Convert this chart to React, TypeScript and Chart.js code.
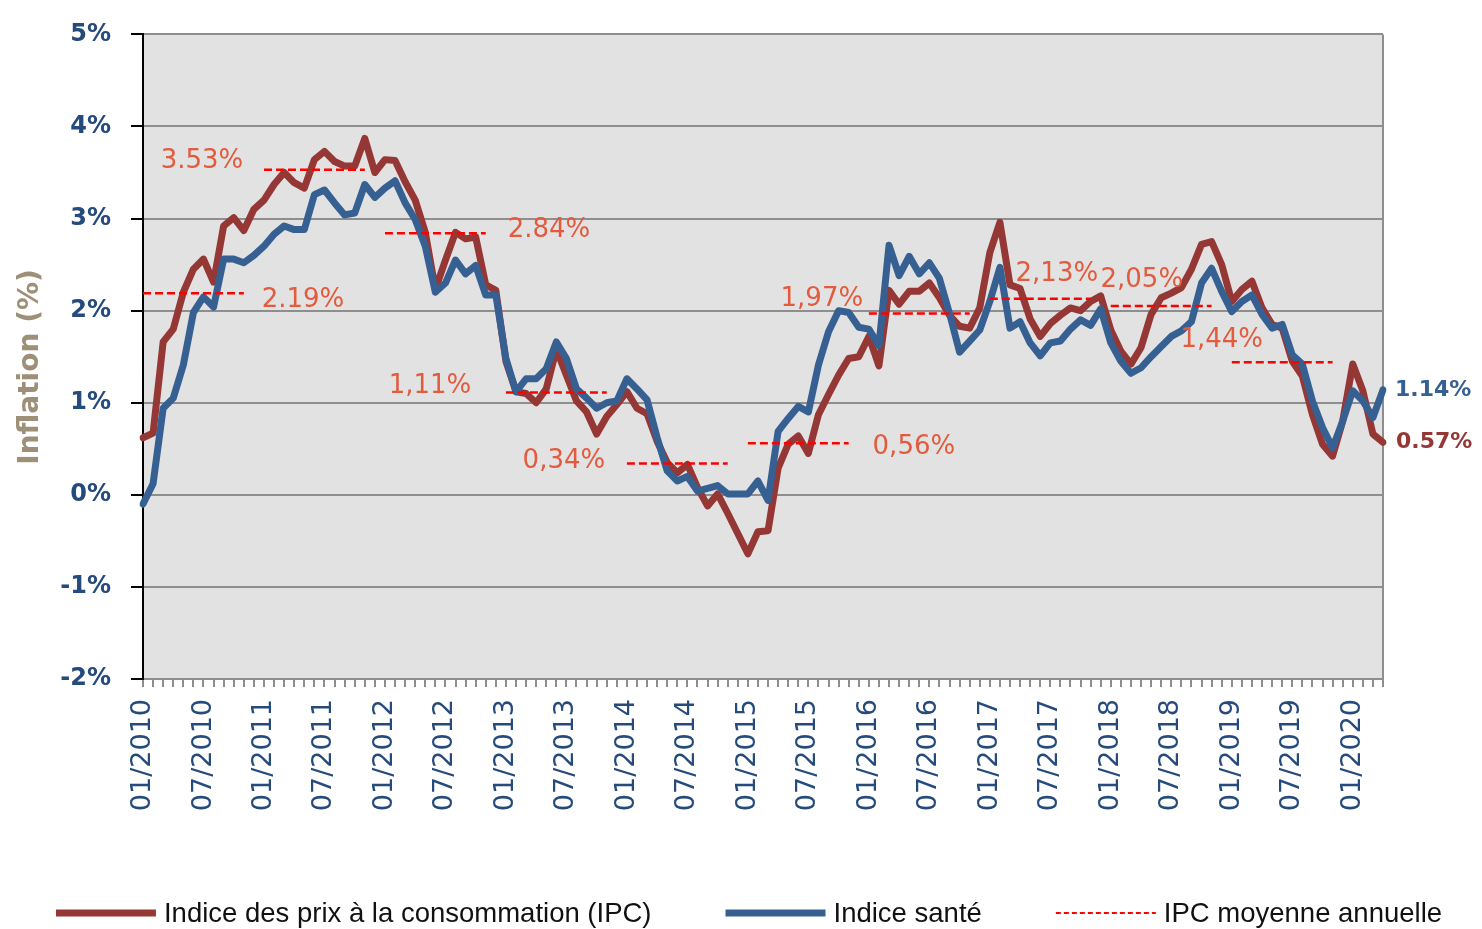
import React, { useEffect, useRef } from 'react';
import { Chart, registerables } from 'chart.js';

Chart.register(...registerables);

// ---------- data ----------
const START_YEAR = 2010;
const MONTH_COUNT = 124; // 01/2010 .. 04/2020
const months: string[] = [];
for (let i = 0; i < MONTH_COUNT; i++) {
  const y = START_YEAR + Math.floor(i / 12);
  const m = (i % 12) + 1;
  months.push(`${String(m).padStart(2, '0')}/${y}`);
}

const ipc: number[] = [
  0.62, 0.67, 1.66, 1.80, 2.20, 2.45, 2.56, 2.31, 2.92, 3.01, 2.87, 3.10,
  3.20, 3.37, 3.50, 3.39, 3.33, 3.64, 3.73, 3.62, 3.57, 3.57, 3.87, 3.50,
  3.64, 3.63, 3.40, 3.20, 2.85, 2.23, 2.55, 2.85, 2.78, 2.80, 2.28, 2.22,
  1.45, 1.12, 1.10, 1.00, 1.15, 1.58, 1.30, 1.02, 0.90, 0.66, 0.85, 0.98,
  1.12, 0.94, 0.88, 0.58, 0.35, 0.24, 0.33, 0.08, -0.12, 0.01, -0.20, -0.42,
  -0.64, -0.40, -0.39, 0.29, 0.55, 0.64, 0.45, 0.87, 1.09, 1.30, 1.48, 1.50,
  1.72, 1.40, 2.22, 2.07, 2.21, 2.21, 2.30, 2.14, 1.95, 1.83, 1.81, 2.03,
  2.63, 2.96, 2.28, 2.24, 1.91, 1.72, 1.86, 1.95, 2.03, 2.00, 2.10, 2.16,
  1.79, 1.56, 1.42, 1.60, 1.96, 2.14, 2.19, 2.25, 2.45, 2.72, 2.75, 2.50,
  2.10, 2.23, 2.32, 2.03, 1.85, 1.81, 1.45, 1.29, 0.87, 0.55, 0.42, 0.80,
  1.42, 1.13, 0.66, 0.57,
];

const sante: number[] = [
  -0.10, 0.12, 0.94, 1.05, 1.41, 1.98, 2.15, 2.04, 2.56, 2.56, 2.52, 2.60,
  2.70, 2.83, 2.92, 2.88, 2.88, 3.26, 3.31, 3.17, 3.04, 3.06, 3.37, 3.23,
  3.33, 3.41, 3.17, 2.99, 2.70, 2.20, 2.30, 2.55, 2.40, 2.49, 2.17, 2.17,
  1.48, 1.12, 1.26, 1.26, 1.37, 1.66, 1.48, 1.15, 1.05, 0.94, 1.00, 1.02,
  1.26, 1.15, 1.03, 0.62, 0.26, 0.15, 0.20, 0.04, 0.07, 0.10, 0.01, 0.01,
  0.01, 0.15, -0.06, 0.69, 0.83, 0.96, 0.90, 1.41, 1.77, 2.00, 1.98, 1.82,
  1.80, 1.62, 2.71, 2.38, 2.59, 2.40, 2.52, 2.35, 1.97, 1.55, 1.67, 1.79,
  2.10, 2.47, 1.81, 1.88, 1.65, 1.51, 1.65, 1.67, 1.80, 1.90, 1.84, 2.02,
  1.65, 1.45, 1.32, 1.38, 1.50, 1.61, 1.72, 1.78, 1.88, 2.30, 2.46, 2.21,
  1.99, 2.10, 2.17, 1.96, 1.81, 1.85, 1.52, 1.42, 1.02, 0.73, 0.51, 0.80,
  1.13, 1.02, 0.84, 1.14,
];

const annualAvg: number[] = [2.19, 3.53, 2.84, 1.11, 0.34, 0.56, 1.97, 2.13, 2.05, 1.44];
const annualLabels: string[] = ['2.19%', '3.53%', '2.84%', '1,11%', '0,34%', '0,56%', '1,97%', '2,13%', '2,05%', '1,44%'];
const SEGMENT_MONTHS = 10;

const seriesNames = {
  ipc: 'Indice des prix à la consommation (IPC)',
  sante: 'Indice santé',
  avg: 'IPC moyenne annuelle',
};
const yAxisTitle = 'Inflation (%)';

// ---------- styles ----------
const IPC_COLOR = '#953735';
const SANTE_COLOR = '#376092';
const AVG_COLOR = '#FF0000';
const ANNOT_COLOR = '#E35B3D';
const TICK_COLOR = '#254A7C';
const TITLE_COLOR = '#9E8F78';
const GRID_COLOR = '#8E8E8E';
const PLOT_BG = '#E2E2E2';

// label placement (pixels) relative to start of each annual segment: [dx of text centre, dy of text middle]
const annualLabelOffsets: [number, number][] = [
  [160, 7], [-62, -9], [164, -3], [-76, -6], [-63, -2],
  [166, 4], [-47, -14], [67, -24], [31, -26], [-10, -22],
];

const avgSeries: (number | null)[] = months.map(() => null);
annualAvg.forEach((v, k) => {
  for (let j = 0; j <= SEGMENT_MONTHS; j++) {
    const idx = k * 12 + j;
    if (idx < MONTH_COUNT) avgSeries[idx] = v;
  }
});

const plotPlugin = {
  id: 'plotDecor',
  beforeDraw(chart: any) {
    const { ctx, chartArea: a } = chart;
    ctx.save();
    ctx.fillStyle = '#FFFFFF';
    ctx.fillRect(0, 0, chart.width, chart.height);
    ctx.fillStyle = PLOT_BG;
    ctx.fillRect(a.left, a.top, a.right - a.left, a.bottom - a.top);
    ctx.restore();
  },
  beforeDatasetsDraw(chart: any) {
    const { ctx, chartArea: a } = chart;
    ctx.save();
    ctx.strokeStyle = GRID_COLOR;
    ctx.lineWidth = 2;
    ctx.beginPath();
    ctx.moveTo(a.right, a.top);
    ctx.lineTo(a.right, a.bottom);
    ctx.stroke();
    // y axis title
    ctx.translate(31, 367);
    ctx.rotate(-Math.PI / 2);
    ctx.font = 'bold 28px "DejaVu Sans"';
    ctx.fillStyle = TITLE_COLOR;
    ctx.textAlign = 'center';
    ctx.textBaseline = 'middle';
    ctx.fillText(yAxisTitle, 0, 0);
    ctx.restore();
  },
  afterDatasetsDraw(chart: any) {
    const { ctx, scales } = chart;
    const xs = scales.x;
    const ys = scales.y;
    ctx.save();
    ctx.font = '26px "DejaVu Sans"';
    ctx.fillStyle = ANNOT_COLOR;
    ctx.textAlign = 'center';
    ctx.textBaseline = 'middle';
    annualAvg.forEach((v, k) => {
      const x = xs.getPixelForValue(k * 12);
      const y = ys.getPixelForValue(v);
      const [dx, dy] = annualLabelOffsets[k];
      ctx.fillText(annualLabels[k], x + dx, y + dy);
    });
    // end-of-series labels
    const last = MONTH_COUNT - 1;
    const xr = chart.chartArea.right + 12;
    ctx.font = 'bold 22px "DejaVu Sans"';
    ctx.textAlign = 'left';
    ctx.fillStyle = SANTE_COLOR;
    ctx.fillText(sante[last].toFixed(2) + '%', xr, ys.getPixelForValue(sante[last]));
    ctx.fillStyle = IPC_COLOR;
    ctx.fillText(ipc[last].toFixed(2) + '%', xr + 1, ys.getPixelForValue(ipc[last]));
    ctx.restore();
  },
  afterDraw(chart: any) {
    const { ctx } = chart;
    const ds = chart.data.datasets;
    const items = [ds[0], ds[1], ds[2]].map((d: any, i: number) => ({
      label: d.label as string,
      color: d.borderColor as string,
      width: i === 2 ? 2 : 7,
      dash: i === 2 ? [5, 3] : [],
    }));
    const lineLen = 100;
    const textGap = 8;
    const itemGap = 74;
    ctx.save();
    ctx.font = '27.5px "Liberation Sans"';
    const widths = items.map((it) => lineLen + textGap + ctx.measureText(it.label).width);
    const total = widths.reduce((s, w) => s + w, 0) + itemGap * (items.length - 1);
    let x = (chart.width - total) / 2 + 8;
    const y = 913;
    items.forEach((it, i) => {
      ctx.strokeStyle = it.color;
      ctx.lineWidth = it.width;
      ctx.setLineDash(it.dash);
      ctx.lineCap = 'butt';
      ctx.beginPath();
      ctx.moveTo(x, y);
      ctx.lineTo(x + lineLen, y);
      ctx.stroke();
      ctx.setLineDash([]);
      ctx.fillStyle = '#111111';
      ctx.textAlign = 'left';
      ctx.textBaseline = 'middle';
      ctx.fillText(it.label, x + lineLen + textGap, y + 1);
      x += widths[i] + itemGap;
    });
    ctx.restore();
  },
};

export default function App() {
  const ref = useRef<HTMLCanvasElement>(null);
  useEffect(() => {
    if (!ref.current) return;
    const chart = new Chart(ref.current, {
      type: 'line',
      data: {
        labels: months,
        datasets: [
          {
            label: seriesNames.ipc,
            data: ipc,
            borderColor: IPC_COLOR,
            backgroundColor: IPC_COLOR,
            borderWidth: 7,
            pointRadius: 0,
            borderJoinStyle: 'round',
            borderCapStyle: 'round',
            order: 2,
          },
          {
            label: seriesNames.sante,
            data: sante,
            borderColor: SANTE_COLOR,
            backgroundColor: SANTE_COLOR,
            borderWidth: 7,
            pointRadius: 0,
            borderJoinStyle: 'round',
            borderCapStyle: 'round',
            order: 1,
          },
          {
            label: seriesNames.avg,
            data: avgSeries,
            borderColor: AVG_COLOR,
            backgroundColor: AVG_COLOR,
            borderWidth: 2.5,
            borderDash: [8, 4],
            pointRadius: 0,
            spanGaps: false,
            order: 0,
          },
        ],
      },
      options: {
        responsive: false,
        animation: false,
        events: [],
        layout: { padding: { top: 30, right: 99, bottom: 100, left: 0 } },
        plugins: {
          legend: { display: false },
          tooltip: { enabled: false },
        },
        elements: { line: { tension: 0 } },
        scales: {
          x: {
            type: 'category',
            offset: false,
            grid: {
              drawOnChartArea: false,
              drawTicks: true,
              tickLength: 8,
              color: GRID_COLOR,
              lineWidth: 2,
            },
            border: { display: true, color: GRID_COLOR, width: 2 },
            ticks: {
              autoSkip: false,
              minRotation: 90,
              maxRotation: 90,
              padding: 12,
              color: TICK_COLOR,
              font: { family: 'DejaVu Sans', size: 27 },
              callback: (_v: any, i: number) => (i % 6 === 0 ? months[i] : ''),
            },
            afterFit: (s: any) => {
              s.height = 150;
            },
          },
          y: {
            min: -2,
            max: 5,
            grid: {
              color: GRID_COLOR,
              lineWidth: 2,
              drawTicks: true,
              tickLength: 12,
              tickColor: '#000000',
            },
            border: { display: true, color: '#000000', width: 2 },
            ticks: {
              stepSize: 1,
              padding: 20,
              color: TICK_COLOR,
              font: { family: 'DejaVu Sans', size: 24, weight: 'bold' },
              callback: (v: any) => `${v}%`,
            },
            title: { display: false },
            afterFit: (s: any) => {
              s.width = 143;
            },
          },
        },
      },
      plugins: [plotPlugin],
    } as any);
    return () => chart.destroy();
  }, []);

  return (
    <div style={{ position: 'fixed', left: 0, top: 0, width: 1482, height: 929, background: '#fff' }}>
      <canvas ref={ref} width={1482} height={929} style={{ display: 'block' }} />
    </div>
  );
}
